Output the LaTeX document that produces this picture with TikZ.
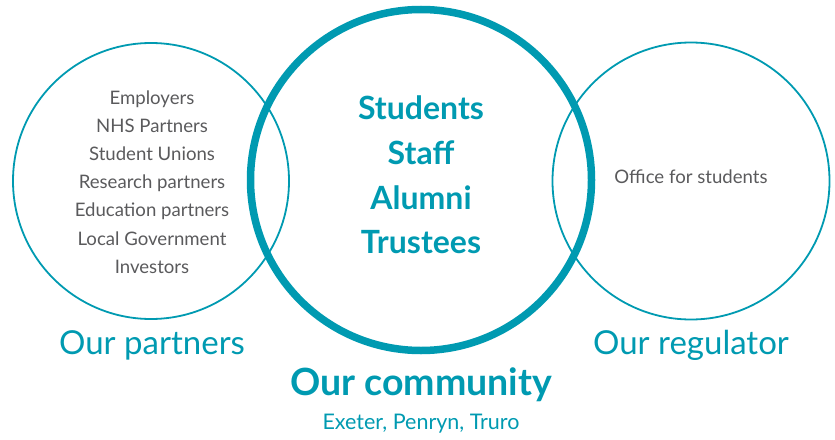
\documentclass[tikz,border=0pt]{standalone}
\usepackage{fontspec}
\setmainfont{Lato}
\usepackage{xcolor}
\definecolor{uniteal}{HTML}{009AB1}
\definecolor{unigray}{HTML}{5A5A5C}

\begin{document}
\begin{tikzpicture}[x=1pt,y=-1pt]
\tikzstyle{ring}=[draw=uniteal,circle,inner sep=0pt,line width=1.8pt]
\tikzstyle{bigring}=[draw=uniteal,circle,inner sep=0pt,line width=7.5pt]
\tikzstyle{list}=[align=center,text=unigray,font=\fontsize{18.6}{28.2}\selectfont]
\tikzstyle{title}=[text=uniteal,font=\fontsize{33}{36}\selectfont]
\useasboundingbox (0,0) rectangle (835,439);
% circles
\node[ring, minimum size=276pt] (partners) at (151,181) {};
\node[ring, minimum size=277pt] (regulator) at (691,181) {};
\node[bigring, minimum size=341pt] (community) at (421,180) {};
% circle contents
\node[list] (partner_list) at (152,182) {Employers\\NHS Partners\\Student Unions\\Research partners\\Education partners\\Local Government\\Investors};
\node[list] (regulator_list) at (691,177) {Office for students};
\node[align=center,text=uniteal,font=\bfseries\fontsize{32}{44.8}\selectfont] (community_list) at (421,175) {Students\\Staff\\Alumni\\Trustees};
% labels
\node[title] (label_partners) at (152,345) {Our partners};
\node[title] (label_regulator) at (691,345) {Our regulator};
\node[text=uniteal,font=\bfseries\fontsize{37.5}{40}\selectfont] (label_community) at (421,385) {Our community};
\node[text=uniteal,font=\fontsize{21.5}{24}\selectfont] (label_campus) at (421,424) {Exeter, Penryn, Truro};
\end{tikzpicture}
\end{document}
